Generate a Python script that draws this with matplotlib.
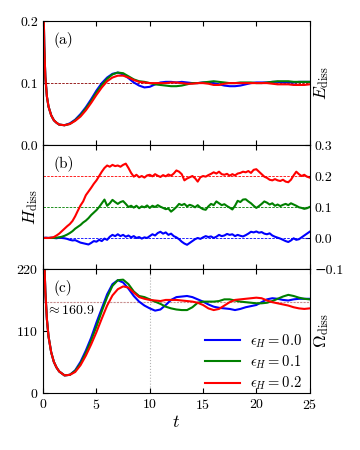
import numpy as np
import matplotlib
matplotlib.use('Agg')
import matplotlib.pyplot as plt

plt.rcParams['font.family'] = ['cmr10', 'DejaVu Serif']
plt.rcParams['mathtext.fontset'] = 'cm'
plt.rcParams['axes.formatter.use_mathtext'] = True
plt.rcParams['axes.unicode_minus'] = True

# time grid for E and Omega (fine start, then every 0.5)
t_s = [0, 0.1, 0.2, 0.35, 0.5, 0.75, 1.0, 1.25, 1.5] + list(np.arange(2.0, 25.01, 0.5))
# time grid for H (every 0.25)
t_h = np.arange(0, 25.01, 0.25)

eps_labels = [r'$\epsilon_H = 0.0$', r'$\epsilon_H = 0.1$', r'$\epsilon_H = 0.2$']
colors = ['blue', 'green', 'red']

E_blue = [0.26, 0.16, 0.11, 0.078, 0.062, 0.048, 0.040, 0.036, 0.033,
          0.032, 0.035, 0.041, 0.050, 0.061, 0.074, 0.088, 0.100, 0.109, 0.115,
          0.117, 0.114, 0.108, 0.101, 0.096, 0.093, 0.094, 0.098, 0.101, 0.102,
          0.102, 0.101, 0.102, 0.101, 0.100, 0.100, 0.101, 0.101, 0.100, 0.098,
          0.096, 0.095, 0.095, 0.096, 0.098, 0.100, 0.101, 0.101, 0.101, 0.102,
          0.102, 0.101, 0.101, 0.101, 0.102, 0.102, 0.102]
E_green = [0.26, 0.16, 0.11, 0.078, 0.062, 0.048, 0.040, 0.036, 0.033,
           0.032, 0.034, 0.040, 0.048, 0.059, 0.071, 0.085, 0.097, 0.107, 0.114,
           0.117, 0.116, 0.111, 0.106, 0.103, 0.102, 0.100, 0.098, 0.097, 0.096,
           0.095, 0.095, 0.096, 0.098, 0.100, 0.100, 0.101, 0.102, 0.103, 0.102,
           0.101, 0.100, 0.100, 0.101, 0.101, 0.101, 0.100, 0.100, 0.101, 0.102,
           0.103, 0.103, 0.103, 0.102, 0.102, 0.102, 0.102]
E_red = [0.26, 0.16, 0.11, 0.078, 0.062, 0.048, 0.040, 0.036, 0.033,
         0.032, 0.034, 0.039, 0.046, 0.056, 0.068, 0.081, 0.093, 0.103, 0.109,
         0.112, 0.112, 0.109, 0.105, 0.102, 0.101, 0.100, 0.100, 0.100, 0.100,
         0.101, 0.101, 0.100, 0.099, 0.099, 0.100, 0.100, 0.099, 0.097, 0.097,
         0.099, 0.100, 0.100, 0.100, 0.100, 0.100, 0.100, 0.100, 0.100, 0.099,
         0.098, 0.098, 0.098, 0.097, 0.097, 0.097, 0.098]

H_blue = [0.000, 0.001, 0.000, 0.001,
          0.000, -0.001, 0.001, 0.000,
          -0.001, -0.003, -0.006, -0.008,
          -0.007, -0.011, -0.015, -0.017,
          -0.019, -0.021, -0.016, -0.010,
          -0.012, -0.006, -0.010, -0.002,
          -0.006, 0.004, 0.010, 0.006,
          0.012, 0.006, 0.010, 0.004,
          0.008, 0.002, 0.006, 0.000,
          0.003, -0.002, 0.002, 0.000,
          0.006, 0.012, 0.008, 0.016,
          0.020, 0.014, 0.018, 0.010,
          0.014, 0.006, 0.002, -0.004,
          -0.012, -0.018, -0.022, -0.016,
          -0.010, -0.004, 0.000, -0.003,
          0.002, 0.006, 0.003, 0.005,
          0.000, 0.004, 0.010, 0.006,
          0.008, 0.013, 0.010, 0.012,
          0.006, 0.010, 0.007, 0.005,
          0.009, 0.014, 0.020, 0.018,
          0.021, 0.017, 0.019, 0.014,
          0.012, 0.015, 0.008, 0.004,
          0.001, -0.002, -0.006, -0.010,
          -0.013, -0.008, -0.001, -0.006,
          -0.004, 0.002, 0.008, 0.014,
          0.020]
H_green = [0.000, 0.000, 0.000, 0.000,
           0.000, 0.001, 0.002, 0.004,
           0.007, 0.011, 0.016, 0.022,
           0.030, 0.036, 0.042, 0.050,
           0.056, 0.064, 0.074, 0.082,
           0.090, 0.100, 0.112, 0.124,
           0.104, 0.112, 0.123, 0.116,
           0.110, 0.116, 0.119, 0.110,
           0.100, 0.104, 0.098, 0.104,
           0.096, 0.102, 0.099, 0.105,
           0.097, 0.104, 0.100, 0.106,
           0.101, 0.097, 0.093, 0.095,
           0.085, 0.092, 0.100, 0.110,
           0.106, 0.110, 0.102, 0.107,
           0.104, 0.099, 0.106, 0.098,
           0.093, 0.091, 0.102, 0.110,
           0.106, 0.118, 0.112, 0.106,
           0.109, 0.103, 0.098, 0.092,
           0.104, 0.120, 0.116, 0.124,
           0.125, 0.118, 0.112, 0.104,
           0.097, 0.103, 0.110, 0.118,
           0.114, 0.108, 0.112, 0.104,
           0.108, 0.103, 0.107, 0.110,
           0.106, 0.112, 0.108, 0.104,
           0.099, 0.097, 0.094, 0.096,
           0.100]
H_red = [0.000, 0.000, 0.000, 0.001,
         0.003, 0.008, 0.014, 0.022,
         0.030, 0.038, 0.045, 0.055,
         0.070, 0.088, 0.105, 0.118,
         0.138, 0.150, 0.162, 0.175,
         0.186, 0.200, 0.214, 0.226,
         0.234, 0.230, 0.236, 0.232,
         0.234, 0.230, 0.236, 0.240,
         0.226, 0.210, 0.198, 0.204,
         0.196, 0.200, 0.195, 0.202,
         0.204, 0.199, 0.206, 0.201,
         0.197, 0.203, 0.199, 0.205,
         0.201, 0.208, 0.218, 0.214,
         0.206, 0.186, 0.192, 0.196,
         0.200, 0.193, 0.182, 0.196,
         0.200, 0.198, 0.203, 0.207,
         0.212, 0.208, 0.214, 0.206,
         0.204, 0.207, 0.201, 0.206,
         0.202, 0.208, 0.210, 0.214,
         0.212, 0.216, 0.210, 0.220,
         0.222, 0.214, 0.206, 0.198,
         0.194, 0.188, 0.186, 0.190,
         0.186, 0.184, 0.188, 0.182,
         0.180, 0.188, 0.202, 0.214,
         0.206, 0.200, 0.204, 0.198,
         0.195]

W_blue = [330, 240, 180, 130, 100, 72, 55, 45, 38,
          31, 32, 40, 55, 75, 98, 125, 150, 175, 193,
          200, 196, 185, 172, 162, 155, 150, 146, 148, 156,
          165, 170, 171, 172, 170, 166, 162, 157, 153, 151,
          150, 149, 147, 149, 152, 154, 156, 161, 166, 168,
          167, 165, 164, 166, 167, 167, 167]
W_green = [330, 240, 180, 130, 100, 72, 55, 45, 38,
           31, 32, 39, 52, 71, 93, 118, 145, 170, 190,
           200, 201, 193, 180, 172, 170, 166, 162, 158, 153,
           150, 148, 147, 147, 152, 160, 162, 162, 162, 163,
           166, 166, 164, 162, 161, 160, 159, 159, 160, 163,
           167, 171, 174, 172, 169, 167, 166]
W_red = [330, 240, 180, 130, 100, 72, 55, 45, 38,
         31, 32, 37, 49, 66, 86, 108, 132, 155, 173,
         184, 189, 187, 178, 170, 167, 165, 164, 163, 165,
         165, 165, 164, 163, 162, 160, 156, 150, 147, 149,
         155, 161, 165, 166, 167, 168, 169, 168, 164, 161,
         159, 157, 155, 152, 150, 149, 150]

E_ref = 0.1
H_ref = [0.0, 0.1, 0.2]
W_ref = 160.9

fig, axes = plt.subplots(3, 1, figsize=(3.6, 4.5), dpi=100, sharex=True)
fig.subplots_adjust(left=0.12, right=0.86, top=0.953, bottom=0.127, hspace=0)
ax1, ax2, ax3 = axes

for ax in axes:
    ax.set_xlim(0, 25)
    ax.axvline(0, color='0.6', lw=1.5, zorder=0.5)
    ax.tick_params(direction='in', top=True, bottom=True, labelsize=10, length=3.5)
    ax.set_xticks([0, 5, 10, 15, 20, 25])

# (a) energy dissipation
ax1.axhline(E_ref, color='darkred', ls='--', lw=0.6, dashes=(3, 1.5))
for y, c in zip([E_blue, E_green, E_red], colors):
    ax1.plot(t_s, y, color=c, lw=1.5)
ax1.set_ylim(0, 0.2)
ax1.set_yticks([0.0, 0.1, 0.2])
ax1.set_yticklabels(['0.0', '0.1', '0.2'])
ax1.yaxis.set_label_position('right')
ax1.set_ylabel(r'$E_{\rm diss}$', fontsize=12.5, labelpad=2)
ax1.text(0.04, 0.91, '(a)', transform=ax1.transAxes, fontsize=11, va='top')

# (b) helicity dissipation
for y, c, h in zip([H_blue, H_green, H_red], colors, H_ref):
    ax2.axhline(h, color=c, ls='--', lw=0.6, dashes=(3, 1.5))
    ax2.plot(t_h, y, color=c, lw=1.5)
ax2.set_ylim(-0.1, 0.3)
ax2.yaxis.tick_right()
ax2.tick_params(axis='y', left=False, right=True)
ax2.set_yticks([-0.1, 0.0, 0.1, 0.2, 0.3])
ax2.set_yticklabels(['\u22120.1', '0.0', '0.1', '0.2', '0.3'])
ax2.set_ylabel(r'$H_{\rm diss}$', fontsize=12.5, labelpad=2)
ax2.yaxis.set_label_position('left')
ax2.text(0.04, 0.91, '(b)', transform=ax2.transAxes, fontsize=11, va='top')

# (c) enstrophy dissipation
ax3.axvline(10, color='0.7', ls=':', lw=0.8, zorder=0.5)
ax3.axhline(W_ref, color='#c89090', ls='--', lw=0.8, dashes=(2, 1))
for y, c, lab in zip([W_blue, W_green, W_red], colors, eps_labels):
    ax3.plot(t_s, y, color=c, lw=1.5, label=lab)
ax3.set_ylim(0, 220)
ax3.set_yticks([0, 110, 220])
ax3.yaxis.set_label_position('right')
ax3.set_ylabel(r'$\Omega_{\rm diss}$', fontsize=12.5, labelpad=2)
ax3.text(0.04, 0.91, '(c)', transform=ax3.transAxes, fontsize=11, va='top')
ax3.text(0.3, 147, r'$\approx$160.9', fontsize=10, va='center')
ax3.set_xlabel(r'$t$', fontsize=13, labelpad=2)
ax3.legend(loc='lower right', frameon=False, fontsize=10.5, handlelength=2.4,
           labelspacing=0.25, handletextpad=0.7, bbox_to_anchor=(1.02, -0.1))

plt.savefig('out.png', dpi=100)
